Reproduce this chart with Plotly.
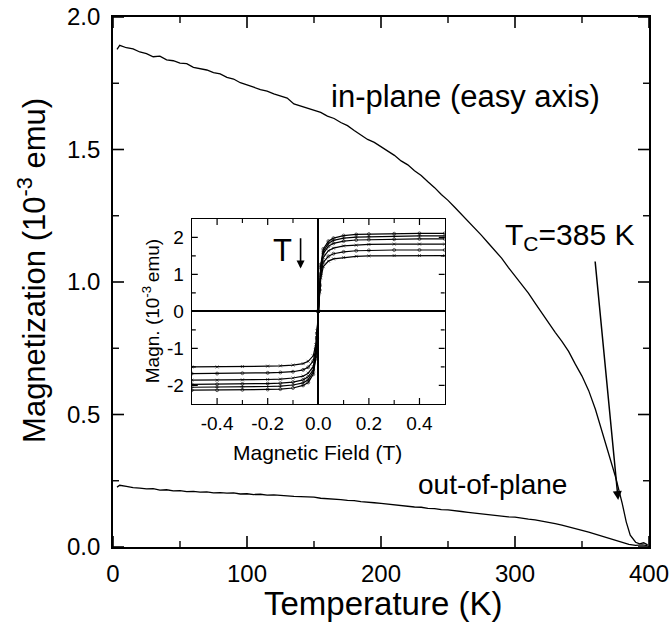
import plotly.graph_objects as go

# ---- main data: magnetization vs temperature ----
T_in = [3, 5, 10, 15, 20, 25, 30, 35, 40, 45, 50, 55, 60, 65, 70, 75, 80, 85, 90, 95,
        100, 105, 110, 115, 120, 125, 130, 135, 140, 145, 150, 155, 160, 165, 170, 175,
        180, 185, 190, 195, 200, 205, 210, 215, 220, 225, 230, 235, 240, 245, 250, 255,
        260, 265, 270, 275, 280, 285, 290, 295, 300, 305, 310, 315, 320, 325, 330, 335,
        340, 345, 350, 355, 360, 365, 370, 375, 380, 383, 386, 390, 393, 396, 399]
M_in = [1.878, 1.893, 1.884, 1.880, 1.868, 1.862, 1.850, 1.852, 1.838, 1.835, 1.826, 1.824,
        1.810, 1.805, 1.800, 1.790, 1.785, 1.772, 1.766, 1.752, 1.742, 1.735, 1.726, 1.720,
        1.710, 1.703, 1.694, 1.672, 1.664, 1.656, 1.648, 1.640, 1.626, 1.617, 1.602, 1.590,
        1.572, 1.556, 1.538, 1.527, 1.511, 1.494, 1.478, 1.457, 1.442, 1.420, 1.402, 1.378,
        1.356, 1.330, 1.308, 1.282, 1.256, 1.232, 1.204, 1.176, 1.147, 1.118, 1.090, 1.055,
        1.024, 0.990, 0.958, 0.920, 0.882, 0.846, 0.810, 0.776, 0.738, 0.690, 0.645, 0.590,
        0.520, 0.435, 0.350, 0.265, 0.165, 0.095, 0.045, 0.018, 0.012, 0.016, 0.008]

T_out = [3, 5, 10, 15, 20, 25, 30, 35, 40, 45, 50, 55, 60, 65, 70, 75, 80, 85, 90, 95,
         100, 105, 110, 115, 120, 125, 130, 135, 140, 145, 150, 155, 160, 165, 170, 175,
         180, 185, 190, 195, 200, 205, 210, 215, 220, 225, 230, 235, 240, 245, 250, 255,
         260, 265, 270, 275, 280, 285, 290, 295, 300, 305, 310, 315, 320, 325, 330, 335,
         340, 345, 350, 355, 360, 365, 370, 375, 380, 385, 390, 395, 399]
M_out = [0.226, 0.233, 0.229, 0.224, 0.222, 0.219, 0.220, 0.215, 0.216, 0.212, 0.213, 0.209,
         0.210, 0.207, 0.208, 0.204, 0.205, 0.203, 0.204, 0.200, 0.201, 0.198, 0.199, 0.196,
         0.197, 0.194, 0.193, 0.191, 0.190, 0.187, 0.188, 0.184, 0.183, 0.180, 0.179, 0.176,
         0.175, 0.171, 0.170, 0.167, 0.165, 0.162, 0.160, 0.157, 0.155, 0.151, 0.150, 0.146,
         0.145, 0.141, 0.140, 0.136, 0.134, 0.131, 0.128, 0.126, 0.123, 0.119, 0.118, 0.114,
         0.113, 0.108, 0.105, 0.102, 0.098, 0.092, 0.088, 0.083, 0.077, 0.070, 0.063, 0.056,
         0.048, 0.040, 0.032, 0.025, 0.016, 0.010, 0.006, 0.008, 0.005]

# ---- inset data: hysteresis loops ----
H_field = [-0.5, -0.4, -0.3, -0.2, -0.15, -0.1, -0.06, -0.04, -0.02, -0.01, -0.005, 0,
           0.005, 0.01, 0.02, 0.04, 0.06, 0.1, 0.15, 0.2, 0.3, 0.4, 0.5]
loop_A = [-2.13, -2.13, -2.12, -2.11, -2.10, -2.07, -2.00, -1.92, -1.70, -1.28, -0.75, 0,
          0.74, 1.27, 1.69, 1.90, 1.98, 2.05, 2.08, 2.09, 2.10, 2.11, 2.11]
loop_B = [-2.05, -2.05, -2.04, -2.03, -2.02, -1.99, -1.93, -1.85, -1.64, -1.23, -0.72, 0,
          0.71, 1.22, 1.63, 1.84, 1.92, 1.98, 2.01, 2.02, 2.03, 2.04, 2.04]
loop_C = [-1.97, -1.97, -1.96, -1.95, -1.94, -1.91, -1.85, -1.77, -1.58, -1.18, -0.69, 0,
          0.69, 1.18, 1.57, 1.76, 1.84, 1.90, 1.93, 1.94, 1.95, 1.96, 1.96]
loop_D = [-1.86, -1.86, -1.85, -1.84, -1.83, -1.80, -1.75, -1.67, -1.49, -1.12, -0.65, 0,
          0.64, 1.09, 1.46, 1.64, 1.71, 1.77, 1.79, 1.81, 1.82, 1.82, 1.82]
loop_E = [-1.68, -1.68, -1.67, -1.66, -1.65, -1.63, -1.58, -1.51, -1.34, -1.01, -0.59, 0,
          0.58, 1.00, 1.33, 1.49, 1.56, 1.61, 1.64, 1.65, 1.66, 1.66, 1.66]
loop_F = [-1.50, -1.50, -1.49, -1.48, -1.47, -1.45, -1.41, -1.35, -1.20, -0.90, -0.53, 0,
          0.53, 0.91, 1.21, 1.36, 1.42, 1.46, 1.49, 1.50, 1.51, 1.51, 1.51]
loops = [loop_A, loop_B, loop_C, loop_D, loop_E, loop_F]
loop_symbols = ["circle-open", "cross-thin-open", "circle-open", "x-thin-open", "circle-open", "x-thin-open"]

# ---- ticks ----
x_ticks = [0, 100, 200, 300, 400]
x_minor = [50, 150, 250, 350]
y_ticks = [0.0, 0.5, 1.0, 1.5, 2.0]
y_tick_text = ["0.0", "0.5", "1.0", "1.5", "2.0"]
y_minor = [0.25, 0.75, 1.25, 1.75]
ix_ticks = [-0.4, -0.2, 0.0, 0.2, 0.4]
ix_tick_text = ["-0.4", "-0.2", "0.0", "0.2", "0.4"]
ix_minor = [-0.3, -0.1, 0.1, 0.3]
iy_ticks = [-2, -1, 0, 1, 2]
iy_tick_text = ["-2", "-1", "0", "1", "2"]
iy_minor = [-1.5, -0.5, 0.5, 1.5]

X_RANGE = [0, 400]
Y_RANGE = [0, 2.0]
IX_RANGE = [-0.5, 0.5]
IY_RANGE = [-2.5, 2.5]

FONT = "Liberation Sans, Arial, Helvetica, sans-serif"

fig = go.Figure()
fig.add_trace(go.Scatter(x=T_in, y=M_in, mode="lines", line=dict(color="black", width=1.3),
                         showlegend=False, hoverinfo="skip", xaxis="x", yaxis="y"))
fig.add_trace(go.Scatter(x=T_out, y=M_out, mode="lines", line=dict(color="black", width=1.3),
                         showlegend=False, hoverinfo="skip", xaxis="x", yaxis="y"))
for lp, sym in zip(loops, loop_symbols):
    fig.add_trace(go.Scatter(x=H_field, y=lp, mode="lines+markers",
                             line=dict(color="black", width=1.2),
                             marker=dict(symbol=sym, size=3, color="black", line=dict(width=0.6)),
                             showlegend=False, hoverinfo="skip", xaxis="x2", yaxis="y2"))

fig.update_layout(
    width=670, height=624,
    margin=dict(l=113, r=21, t=17, b=77, autoexpand=False),
    paper_bgcolor="white", plot_bgcolor="white",
    xaxis=dict(range=X_RANGE, tickvals=x_ticks, ticktext=[str(v) for v in x_ticks],
               domain=[0, 1], anchor="y", showline=True, linecolor="black", linewidth=1.6,
               mirror=True, ticks="", showgrid=False, zeroline=False, automargin=False,
               ticklabelstandoff=4, tickfont=dict(family=FONT, size=24, color="black")),
    yaxis=dict(range=Y_RANGE, tickvals=y_ticks, ticktext=y_tick_text,
               domain=[0, 1], anchor="x", showline=True, linecolor="black", linewidth=1.6,
               mirror=True, ticks="", showgrid=False, zeroline=False, automargin=False,
               ticklabelstandoff=6, tickfont=dict(family=FONT, size=24, color="black")),
    xaxis2=dict(range=IX_RANGE, tickvals=ix_ticks, ticktext=ix_tick_text,
                domain=[0.147, 0.619], anchor="y2", showline=True, linecolor="black",
                linewidth=1.4, mirror=True, ticks="", showgrid=False, zeroline=True,
                zerolinecolor="black", zerolinewidth=1.6, automargin=False,
                ticklabelstandoff=2, tickfont=dict(family=FONT, size=19, color="black")),
    yaxis2=dict(range=IY_RANGE, tickvals=iy_ticks, ticktext=iy_tick_text,
                domain=[0.270, 0.619], anchor="x2", showline=True, linecolor="black",
                linewidth=1.4, mirror=True, ticks="", showgrid=False, zeroline=True,
                zerolinecolor="black", zerolinewidth=1.6, automargin=False,
                ticklabelstandoff=3, tickfont=dict(family=FONT, size=19, color="black")),
)

# inward tick marks, placed through the axes' own scales (pixel-length lines)
def x_tick_marks(xref, yref, vals, rng, length, width):
    for v in vals:
        for anchor, sign in ((rng[0], 1), (rng[1], -1)):
            fig.add_shape(type="line", xref=xref, yref=yref, x0=v, x1=v,
                          ysizemode="pixel", yanchor=anchor, y0=0, y1=sign * length,
                          line=dict(color="black", width=width))

def y_tick_marks(xref, yref, vals, rng, length, width):
    for v in vals:
        for anchor, sign in ((rng[0], 1), (rng[1], -1)):
            fig.add_shape(type="line", xref=xref, yref=yref, y0=v, y1=v,
                          xsizemode="pixel", xanchor=anchor, x0=0, x1=sign * length,
                          line=dict(color="black", width=width))

x_tick_marks("x", "y", x_ticks, Y_RANGE, 11, 1.6)
x_tick_marks("x", "y", x_minor, Y_RANGE, 6, 1.4)
y_tick_marks("x", "y", y_ticks, X_RANGE, 11, 1.6)
y_tick_marks("x", "y", y_minor, X_RANGE, 6, 1.4)
x_tick_marks("x2", "y2", ix_ticks, IY_RANGE, 6, 1.2)
x_tick_marks("x2", "y2", ix_minor, IY_RANGE, 4, 1.1)
y_tick_marks("x2", "y2", iy_ticks, IX_RANGE, 6, 1.2)
y_tick_marks("x2", "y2", iy_minor, IX_RANGE, 4, 1.1)

# vertical line at H = 0 in the inset
fig.add_shape(type="line", xref="x2", yref="y2", x0=0, x1=0, y0=IY_RANGE[0], y1=IY_RANGE[1],
              line=dict(color="black", width=1.4))

ann = []
ann.append(dict(text="Magnetization (10<sup>-3</sup> emu)", xref="paper", yref="paper",
                x=-0.151, y=0.521, xanchor="center", yanchor="middle", textangle=-90,
                showarrow=False, font=dict(family=FONT, size=31, color="black")))
ann.append(dict(text="Temperature (K)", xref="paper", yref="paper",
                x=0.504, y=-0.1075, xanchor="center", yanchor="middle", showarrow=False,
                font=dict(family=FONT, size=33, color="black")))
ann.append(dict(text="Magn. (10<sup>-3 </sup>emu)", xref="paper", yref="paper",
                x=0.071, y=0.445, xanchor="center", yanchor="middle", textangle=-90,
                showarrow=False, font=dict(family=FONT, size=19, color="black")))
ann.append(dict(text="Magnetic Field (T)", xref="paper", yref="paper",
                x=0.382, y=0.179, xanchor="center", yanchor="middle", showarrow=False,
                font=dict(family=FONT, size=21, color="black")))
ann.append(dict(text="in-plane (easy axis)", xref="x", yref="y", x=262.7, y=1.70,
                xanchor="center", yanchor="middle",
                showarrow=False, font=dict(family=FONT, size=31, color="black")))
ann.append(dict(text="out-of-plane", xref="x", yref="y", x=283, y=0.234,
                xanchor="center", yanchor="middle",
                showarrow=False, font=dict(family=FONT, size=28, color="black")))
ann.append(dict(text="T<sub>C</sub>=385 K", xref="x", yref="y", x=291, y=1.17,
                xanchor="left", yanchor="middle", showarrow=False,
                font=dict(family=FONT, size=30, color="black")))
ann.append(dict(text="", xref="x", yref="y", x=377, y=0.177, axref="x", ayref="y",
                ax=359.7, ay=1.083, showarrow=True, arrowhead=2, arrowsize=1.2,
                arrowwidth=1.5, arrowcolor="black"))
ann.append(dict(text="T", xref="x2", yref="y2", x=-0.141, y=1.65, xanchor="center",
                yanchor="middle", showarrow=False, font=dict(family=FONT, size=31, color="black")))
ann.append(dict(text="", xref="x2", yref="y2", x=-0.07, y=1.16, axref="x2", ayref="y2",
                ax=-0.07, ay=2.02, showarrow=True, arrowhead=2, arrowsize=1.0,
                arrowwidth=1.6, arrowcolor="black"))
fig.update_layout(annotations=ann)

fig.write_html("out.html", config={"displayModeBar": False},
               post_script="document.body.style.margin='0';")
